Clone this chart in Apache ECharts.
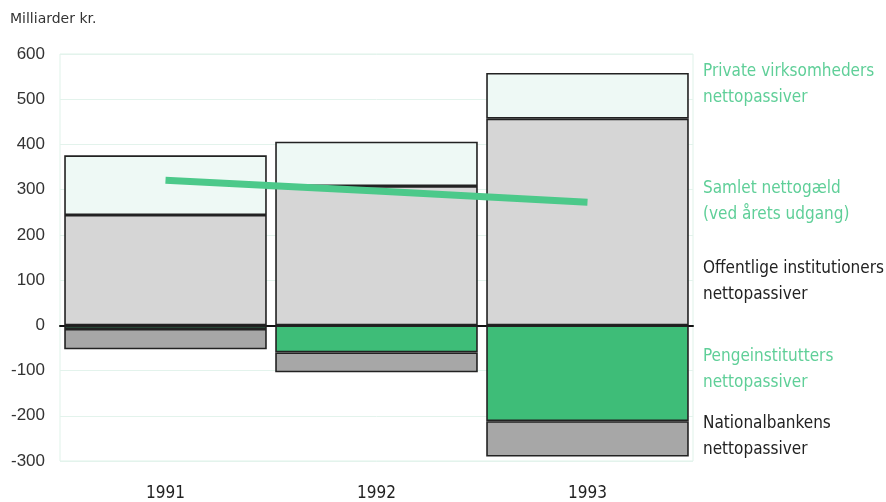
<!DOCTYPE html>
<html><head><meta charset="utf-8">
<script src="https://cdn.jsdelivr.net/npm/echarts@6/dist/echarts.min.js"></script>
<style>html,body{margin:0;padding:0;background:#fff}#c{width:886px;height:502px}</style>
</head><body><div id="c"></div>
<script>
const years = ['1991', '1992', '1993'];
const offentlige = [244, 308, 457];
const privateV = [132, 98, 101];
const penge = [-8, -60, -212];
const national = [-45, -44, -78];
const samlet = [321, 297, 272];
const yTicks = [-300, -200, -100, 0, 100, 200, 300, 400, 500, 600];

const labels = [
  {t: 'Private virksomheders\nnettopassiver', y: 59, c: '#5fcf98'},
  {t: 'Samlet nettogæld\n(ved årets udgang)', y: 176, c: '#5fcf98'},
  {t: 'Offentlige institutioners\nnettopassiver', y: 256, c: '#222'},
  {t: 'Pengeinstitutters\nnettopassiver', y: 344, c: '#5fcf98'},
  {t: 'Nationalbankens\nnettopassiver', y: 411, c: '#222'}
];

const chart = echarts.init(document.getElementById('c'));
const border = {borderColor: '#222', borderWidth: 1.6};
chart.setOption({
  animation: false,
  grid: {left: 60, right: 193, top: 54, bottom: 41, show: true, borderColor: '#dff2e9', borderWidth: 1},
  xAxis: {
    type: 'category', data: years,
    axisLine: {onZero: true, lineStyle: {color: '#111', width: 2}},
    axisTick: {show: false},
    axisLabel: {margin: 24, fontSize: 17, color: '#222', fontFamily: 'Liberation Sans Narrow, DejaVu Sans Condensed, sans-serif'}
  },
  yAxis: {
    type: 'value', min: yTicks[0], max: yTicks[yTicks.length - 1], interval: 100,
    axisLine: {show: false}, axisTick: {show: false},
    axisLabel: {fontSize: 17, color: '#333', margin: 15, fontFamily: 'Liberation Sans, Arial, sans-serif'},
    splitLine: {lineStyle: {color: '#e3f3ec', width: 1}}
  },
  graphic: [
    {type: 'text', left: 10, top: 12, style: {text: 'Milliarder kr.', fontSize: 14, fill: '#333', fontFamily: 'DejaVu Sans, sans-serif'}}
  ].concat(labels.map(l => ({
    type: 'text', left: 703, top: l.y,
    style: {text: l.t, fontSize: 17, lineHeight: 26, fill: l.c, fontFamily: 'Liberation Sans Narrow, DejaVu Sans Condensed, sans-serif'}
  }))),
  series: [
    {name: 'Offentlige', type: 'bar', stack: 'a', barCategoryGap: '4%', data: offentlige, itemStyle: Object.assign({color: '#d6d6d6'}, border)},
    {name: 'Private', type: 'bar', stack: 'a', data: privateV, itemStyle: Object.assign({color: '#eef9f5'}, border)},
    {name: 'Penge', type: 'bar', stack: 'a', data: penge, itemStyle: Object.assign({color: '#3ebd78'}, border)},
    {name: 'National', type: 'bar', stack: 'a', data: national, itemStyle: Object.assign({color: '#a7a7a7'}, border)},
    {name: 'Samlet', type: 'line', data: samlet, symbol: 'none', z: 10, lineStyle: {color: '#4cc98a', width: 7}}
  ]
});
</script></body></html>
